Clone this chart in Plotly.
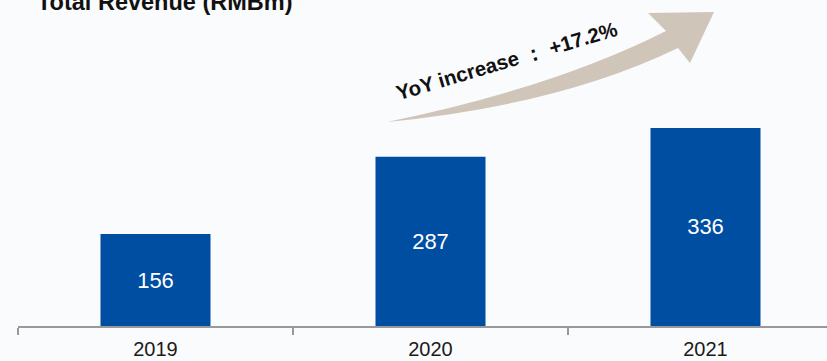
import plotly.graph_objects as go

# ---- data ----
years = ["2019", "2020", "2021"]
revenue = [156, 287, 336]
title_text = "Total Revenue (RMBm)"
growth_text = "YoY increase ： +17.2%"

# ---- layout geometry (pixels) ----
W, H = 827, 361
L, R, T, B = 18, 0, 10, 35
PW, PH = W - L - R, H - T - B


def px(x):
    return (x - L) / PW


def py(y):
    return (H - B - y) / PH


FONT = "Arial, Liberation Sans, sans-serif"
BAR_COLOR = "#004EA2"
ARROW_COLOR = "#CFC5B8"

fig = go.Figure()
fig.add_trace(go.Bar(
    x=years, y=revenue, width=0.4,
    marker=dict(color=BAR_COLOR, line=dict(width=0)),
    text=[str(v) for v in revenue], textposition="inside",
    insidetextanchor="middle", textangle=0,
    textfont=dict(family=FONT, size=22, color="white"),
    hoverinfo="skip",
))

# curved arrow (decoration)
tail = (387, 122)
top_join, top_ctrl = (666, 31), (553, 88)
bot_join, bot_ctrl = (678, 48), (560, 105)
head = [(648, 13), (714, 12), (690, 63)]


def P(p):
    return f"{px(p[0]):.5f},{py(p[1]):.5f}"


path = (f"M {P(tail)} Q {P(top_ctrl)} {P(top_join)} "
        f"L {P(head[0])} L {P(head[1])} L {P(head[2])} "
        f"L {P(bot_join)} Q {P(bot_ctrl)} {P(tail)} Z")
fig.add_shape(type="path", path=path, xref="paper", yref="paper",
              fillcolor=ARROW_COLOR, line=dict(width=0), layer="below")

fig.add_annotation(
    text=f"<b>{growth_text}</b>", xref="paper", yref="paper",
    x=px(507), y=py(61), xanchor="center", yanchor="middle",
    textangle=-16.5, showarrow=False,
    font=dict(family=FONT, size=20.5, color="#111111"),
)

fig.add_annotation(
    text=f"<b>{title_text}</b>", xref="paper", yref="paper",
    x=px(35), y=py(2), xanchor="left", yanchor="middle",
    showarrow=False, font=dict(family=FONT, size=23.5, color="#111111"),
)

fig.update_layout(
    width=W, height=H,
    margin=dict(l=L, r=R, t=T, b=B, pad=0),
    paper_bgcolor="#FAFBFD", plot_bgcolor="#FAFBFD",
    showlegend=False, bargap=0.6,
)
fig.update_xaxes(
    type="category", range=[-0.5, -0.5 + PW / 275.0],
    showline=True, linecolor="#999999", linewidth=2,
    ticks="outside", tickson="boundaries", ticklen=7, tickwidth=2,
    tickcolor="#999999", showgrid=False, zeroline=False,
    ticklabelstandoff=4,
    tickfont=dict(family=FONT, size=20, color="#1a1a1a"),
)
fig.update_yaxes(range=[0, PH / 0.5895], visible=False, showgrid=False)

fig.write_html("out.html", config=dict(displayModeBar=False))
